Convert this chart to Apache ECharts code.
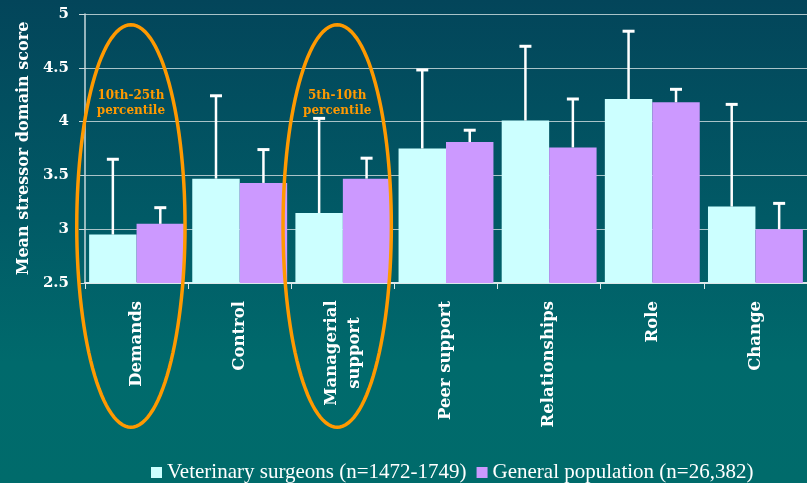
<!DOCTYPE html>
<html>
<head>
<meta charset="utf-8">
<script src="https://cdn.jsdelivr.net/npm/echarts@6/dist/echarts.min.js"></script>
<style>
  html, body { margin: 0; padding: 0; }
  #chart {
    width: 807px; height: 483px;
    background: linear-gradient(to bottom, #03455a 0%, #015a66 45%, #006a6c 75%, #006b6b 100%);
  }
</style>
</head>
<body>
<div id="chart"></div>
<script>
// stressor domains
const categories = ['Demands', 'Control', 'Managerial\nsupport', 'Peer support', 'Relationships', 'Role', 'Change'];
// mean scores
const vetMeans = [2.95, 3.47, 3.15, 3.75, 4.01, 4.21, 3.21];
const genMeans = [3.05, 3.43, 3.47, 3.81, 3.76, 4.18, 3.00];
// top of the error bars
const vetUpper = [3.65, 4.24, 4.03, 4.48, 4.70, 4.84, 4.16];
const genUpper = [3.20, 3.74, 3.66, 3.92, 4.21, 4.30, 3.24];
// circled domains
const highlightCats = [0, 2];
const highlightLabels = ['10th-25th\npercentile', '5th-10th\npercentile'];
const seriesNames = ['Veterinary surgeons (n=1472-1749)', 'General population (n=26,382)'];

const serif = 'DejaVu Serif';
const gapRatio = 0.08;

const chart = echarts.init(document.getElementById('chart'));

function errorBars(side) {
  return (params, api) => {
    const i = api.value(0);
    const base = api.coord([i, api.value(1)]);
    const top = api.coord([i, api.value(2)]);
    const band = api.size([1, 0])[0];
    const x = base[0] + side * band * (1 - gapRatio) / 4;
    return {
      type: 'group',
      children: [
        { type: 'line', shape: { x1: x, y1: base[1], x2: x, y2: top[1] }, style: { stroke: '#fff', lineWidth: 2.5 } },
        { type: 'line', shape: { x1: x - 6, y1: top[1], x2: x + 6, y2: top[1] }, style: { stroke: '#fff', lineWidth: 3 } }
      ]
    };
  };
}

function ellipse(params, api) {
  const i = api.value(0);
  const band = api.size([1, 0])[0];
  const cx = api.coord([i, 3])[0] - 0.055 * band;
  const yTop = api.coord([i, 4.9])[1];
  const yBot = api.coord([i, 1.16])[1];
  const cy = (yTop + yBot) / 2, ry = (yBot - yTop) / 2, rx = 0.525 * band;
  const pts = [];
  for (let k = 0; k < 120; k++) {
    const t = k / 120 * Math.PI * 2;
    pts.push([cx + rx * Math.cos(t), cy + ry * Math.sin(t)]);
  }
  const ty = api.coord([i, 4.17])[1];
  return {
    type: 'group',
    children: [
      { type: 'polygon', shape: { points: pts }, style: { fill: 'none', stroke: '#ff9900', lineWidth: 3.5 } },
      { type: 'text', style: {
          text: highlightLabels[params.dataIndex], x: cx, y: ty,
          align: 'center', verticalAlign: 'middle',
          fill: '#ff9900', fontFamily: serif, fontWeight: 'bold', fontSize: 12, lineHeight: 15
      } }
    ]
  };
}

chart.setOption({
  animation: false,
  backgroundColor: 'transparent',
  grid: { left: 85, top: 14, width: 732, height: 269, containLabel: false },
  legend: {
    data: seriesNames,
    left: 146, top: 457,
    icon: 'rect', itemWidth: 11, itemHeight: 11, itemGap: 10,
    textStyle: { color: '#fff', fontFamily: 'Liberation Serif', fontSize: 21 }
  },
  xAxis: {
    type: 'category',
    data: categories,
    axisLine: { lineStyle: { color: '#dde8ea', width: 2 } },
    axisTick: { show: true, length: 6, lineStyle: { color: '#dde8ea' } },
    axisLabel: {
      interval: 0, rotate: 90, margin: 18,
      color: '#fff', fontFamily: serif, fontWeight: 'bold', fontSize: 16.5,
      formatter: v => v.indexOf('\n') >= 0 ? v.split('\n').map(s => '{c|' + s + '}').join('\n') : v,
      rich: { c: { width: 104, align: 'center', color: '#fff', fontFamily: serif, fontWeight: 'bold', fontSize: 16.5, lineHeight: 23 } }
    }
  },
  yAxis: {
    type: 'value',
    min: 2.5, max: 5, interval: 0.5,
    name: 'Mean stressor domain score',
    nameLocation: 'middle', nameRotate: 90, nameGap: 53,
    nameTextStyle: { color: '#fff', fontFamily: serif, fontWeight: 'bold', fontSize: 16 },
    axisLine: { show: true, lineStyle: { color: '#c8d8dc', width: 1.5 } },
    axisTick: { show: true, length: 6, lineStyle: { color: '#c8d8dc' } },
    axisLabel: { color: '#fff', fontFamily: serif, fontWeight: 'bold', fontSize: 15, margin: 16 },
    splitLine: { lineStyle: { color: '#a9c3c8', width: 1 } }
  },
  series: [
    { name: seriesNames[0], type: 'bar', data: vetMeans, barGap: '0%', barCategoryGap: '8%', itemStyle: { color: '#ccffff' } },
    { name: seriesNames[1], type: 'bar', data: genMeans, itemStyle: { color: '#cc99ff' } },
    { type: 'custom', renderItem: errorBars(-1), data: vetMeans.map((v, i) => [i, v, vetUpper[i]]), z: 3, clip: false },
    { type: 'custom', renderItem: errorBars(1), data: genMeans.map((v, i) => [i, v, genUpper[i]]), z: 3, clip: false },
    { type: 'custom', renderItem: ellipse, data: highlightCats.map(c => [c]), z: 5, clip: false, silent: true }
  ]
});
</script>
</body>
</html>
